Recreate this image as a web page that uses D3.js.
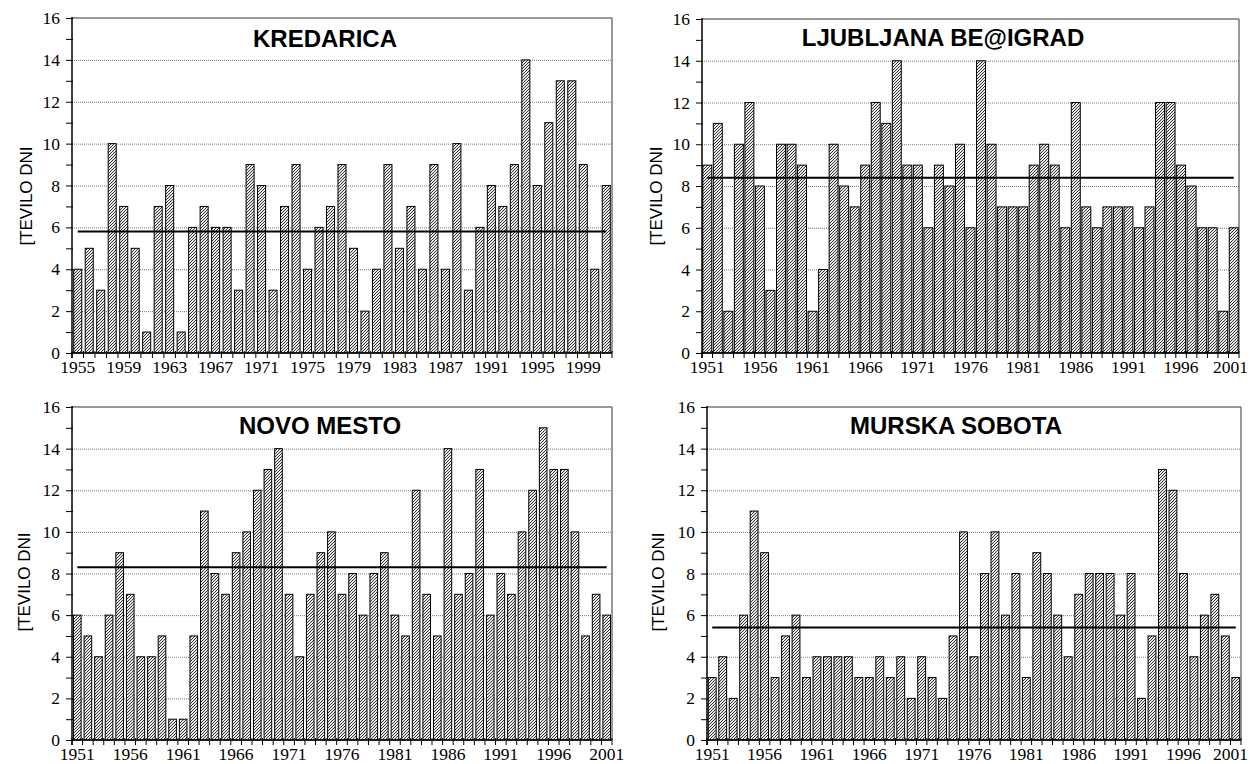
<!DOCTYPE html>
<html><head><meta charset="utf-8">
<script src="https://cdn.jsdelivr.net/npm/d3@7"></script>
<style>body{margin:0;background:#fff}svg{display:block}</style>
</head><body>
<svg id="c" width="1250" height="764"></svg>
<script>
// ---- data ----
const kredaricaYears = d3.range(1955, 2002);
const kredaricaDays = [4,5,3,10,7,5,1,7,8,1,6,7,6,6,3,9,8,3,7,9,4,6,7,9,5,2,4,9,5,7,4,9,4,10,3,6,8,7,9,14,8,11,13,13,9,4,8];
const kredaricaMean = 5.8;
const kredaricaTickYears = [1955,1959,1963,1967,1971,1975,1979,1983,1987,1991,1995,1999];

const ljubljanaYears = d3.range(1951, 2002);
const ljubljanaDays = [9,11,2,10,12,8,3,10,10,9,2,4,10,8,7,9,12,11,14,9,9,6,9,8,10,6,14,10,7,7,7,9,10,9,6,12,7,6,7,7,7,6,7,12,12,9,8,6,6,2,6];
const ljubljanaMean = 8.4;

const novoMestoYears = d3.range(1951, 2002);
const novoMestoDays = [6,5,4,6,9,7,4,4,5,1,1,5,11,8,7,9,10,12,13,14,7,4,7,9,10,7,8,6,8,9,6,5,12,7,5,14,7,8,13,6,8,7,10,12,15,13,13,10,5,7,6];
const novoMestoMean = 8.3;

const murskaSobotaYears = d3.range(1951, 2002);
const murskaSobotaDays = [3,4,2,6,11,9,3,5,6,3,4,4,4,4,3,3,4,3,4,2,4,3,2,5,10,4,8,10,6,8,3,9,8,6,4,7,8,8,8,6,8,2,5,13,12,8,4,6,7,5,3];
const murskaSobotaMean = 5.4;

const fiveYearTicks = [1951,1956,1961,1966,1971,1976,1981,1986,1991,1996,2001];
const yAxisTitle = "[TEVILO DNI";

const panels = [
  {title:"KREDARICA", years:kredaricaYears, values:kredaricaDays, mean:kredaricaMean, ticks:kredaricaTickYears,
   x0:72, x1:612, y0:18, y1:353, pad:0.3, titleX:325, titleY:47, ytX:26, ytY:196},
  {title:"LJUBLJANA BE@IGRAD", years:ljubljanaYears, values:ljubljanaDays, mean:ljubljanaMean, ticks:fiveYearTicks,
   x0:702, x1:1239, y0:19, y1:353, pad:0.15, titleX:943, titleY:46, ytX:656, ytY:196},
  {title:"NOVO MESTO", years:novoMestoYears, values:novoMestoDays, mean:novoMestoMean, ticks:fiveYearTicks,
   x0:72, x1:612, y0:407, y1:740, pad:0.28, titleX:320, titleY:434, ytX:24, ytY:582},
  {title:"MURSKA SOBOTA", years:murskaSobotaYears, values:murskaSobotaDays, mean:murskaSobotaMean, ticks:fiveYearTicks,
   x0:707, x1:1241, y0:407, y1:740, pad:0.25, titleX:956, titleY:434, ytX:658, ytY:582}
];

const svg = d3.select("#c");
const defs = svg.append("defs");
const pat = defs.append("pattern").attr("id","hatch").attr("patternUnits","userSpaceOnUse")
  .attr("width",3).attr("height",3);
pat.append("rect").attr("width",3).attr("height",3).attr("fill","#eaeaea");
pat.append("path").attr("d","M-1,1 L1,-1 M0,3 L3,0 M2,4 L4,2").attr("stroke","#333").attr("stroke-width",1);

panels.forEach(p => {
  const g = svg.append("g");
  const x = d3.scaleBand().domain(p.years).range([p.x0, p.x1]).paddingInner(p.pad).paddingOuter(p.pad/2);
  const y = d3.scaleLinear().domain([0,16]).range([p.y1, p.y0]);

  // gridlines
  g.append("g").selectAll("line").data([2,4,6,8,10,12,14]).join("line")
    .attr("x1",p.x0).attr("x2",p.x1).attr("y1",d=>y(d)+0.5).attr("y2",d=>y(d)+0.5)
    .attr("stroke","#777").attr("stroke-width",1).attr("stroke-dasharray","1,1");

  // frame top & right
  g.append("line").attr("x1",p.x0).attr("x2",p.x1).attr("y1",y(16)).attr("y2",y(16))
    .attr("stroke","#999").attr("stroke-width",2);
  g.append("line").attr("x1",p.x1).attr("x2",p.x1).attr("y1",y(16)).attr("y2",y(0))
    .attr("stroke","#777").attr("stroke-width",1.5);

  // bars
  g.append("g").selectAll("rect").data(p.years).join("rect")
    .attr("x",(d)=>x(d)).attr("width",x.bandwidth())
    .attr("y",(d,i)=>y(p.values[i])).attr("height",(d,i)=>y(0)-y(p.values[i]))
    .attr("fill","url(#hatch)").attr("stroke","#000").attr("stroke-width",1);

  // mean line
  const first = p.years[0], last = p.years[p.years.length-1];
  g.append("line").attr("x1",x(first)+x.bandwidth()/2).attr("x2",x(last)+x.bandwidth()/2)
    .attr("y1",y(p.mean)).attr("y2",y(p.mean)).attr("stroke","#000").attr("stroke-width",2);

  // y axis
  const yAxis = d3.axisLeft(y).tickValues(d3.range(0,17)).tickSize(6).tickPadding(6)
    .tickFormat(d => d % 2 === 0 ? d : "");
  const ya = g.append("g").attr("transform",`translate(${p.x0},0)`).call(yAxis);
  ya.select(".domain").remove();
  ya.selectAll(".tick line").attr("x2",-6).attr("x1",1).attr("stroke","#000");
  ya.selectAll("text").attr("font-family","'Liberation Serif','Times New Roman',serif").attr("font-size","17.5px").attr("fill","#000");
  g.append("line").attr("x1",p.x0).attr("x2",p.x0).attr("y1",y(16)-1).attr("y2",y(0)+5)
    .attr("stroke","#000").attr("stroke-width",1.5);

  // x axis boundary ticks
  const step = x.step();
  const bounds = p.years.map(d => x(d) - step*p.pad/2).concat([x(last) + x.bandwidth() + step*p.pad/2]);
  g.append("g").selectAll("line").data(bounds).join("line")
    .attr("x1",d=>d).attr("x2",d=>d).attr("y1",y(0)-2).attr("y2",y(0)+5)
    .attr("stroke","#000").attr("stroke-width",1);
  g.append("line").attr("x1",p.x0-1).attr("x2",p.x1).attr("y1",y(0)).attr("y2",y(0))
    .attr("stroke","#000").attr("stroke-width",1.5);

  // x labels
  const xAxis = d3.axisBottom(x).tickValues(p.ticks).tickSize(0).tickPadding(8);
  const xa = g.append("g").attr("transform",`translate(0,${y(0)})`).call(xAxis);
  xa.select(".domain").remove();
  xa.selectAll("text").attr("font-family","'Liberation Serif','Times New Roman',serif").attr("font-size","17.5px").attr("fill","#000");
  // keep labels inside the page width
  xa.selectAll(".tick").each(function(){
    const t = d3.select(this).select("text");
    const bb = this.getBoundingClientRect();
    const overflow = bb.right - 1248;
    if (overflow > 0) t.attr("dx", -overflow);
  });

  // title
  g.append("text").attr("x",p.titleX).attr("y",p.titleY).attr("text-anchor","middle")
    .attr("font-family","'Liberation Sans',Arial,sans-serif").attr("font-weight","bold").attr("font-size","24px")
    .text(p.title);

  // y title
  g.append("text").attr("transform",`translate(${p.ytX},${p.ytY}) rotate(-90)`)
    .attr("text-anchor","middle").attr("dominant-baseline","central")
    .attr("font-family","'Liberation Sans',Arial,sans-serif").attr("font-size","17px")
    .text(yAxisTitle);
});
</script>
</body></html>
